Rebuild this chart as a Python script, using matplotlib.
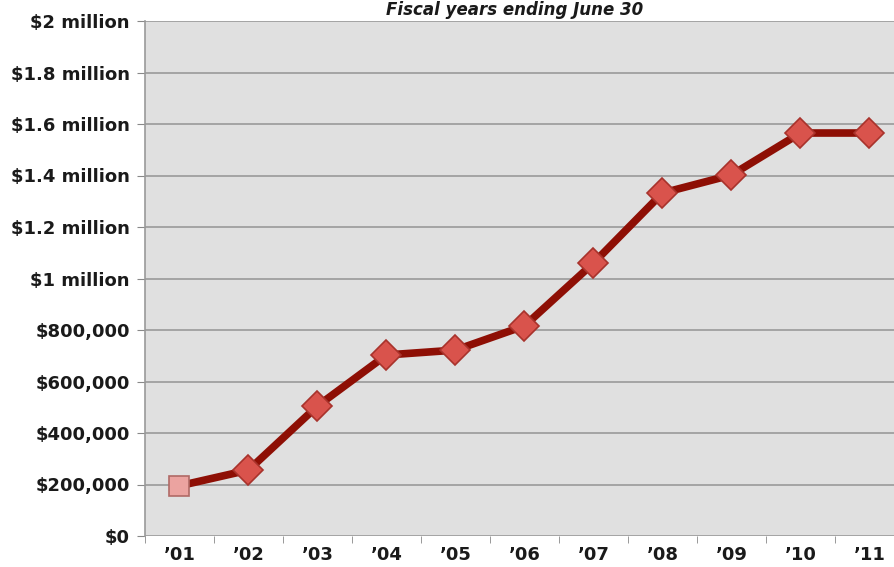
import matplotlib.pyplot as plt
import numpy as np

years = ["\u201901", "\u201902", "\u201903", "\u201904", "\u201905", "\u201906",
         "\u201907", "\u201908", "\u201909", "\u201910", "\u201911"]
amounts = [195000, 256000, 505000, 703000, 722000, 816000,
           1060000, 1332000, 1402000, 1565000, 1565000]
ytick_vals = [0, 200000, 400000, 600000, 800000, 1000000,
              1200000, 1400000, 1600000, 1800000, 2000000]
ytick_labels = ["$0", "$200,000", "$400,000", "$600,000", "$800,000", "$1 million",
                "$1.2 million", "$1.4 million", "$1.6 million", "$1.8 million", "$2 million"]

plt.rcParams["font.family"] = ["DejaVu Sans"]

fig = plt.figure(figsize=(8.95, 5.67), dpi=100)
W, H = 895, 567
left, right, top, bottom = 145, 904, 21, 536
ax = fig.add_axes([left / W, 1 - bottom / H, (right - left) / W, (bottom - top) / H])
ax.set_facecolor("#e0e0e0")

x = np.arange(len(years))
ax.plot(x, amounts, color="#8e0f05", lw=5.5, zorder=3, solid_capstyle="round")
ax.plot(x[1:], amounts[1:], ls="none", marker="D", ms=15, mfc="#d9534c",
        mec="#a8332c", mew=1.2, zorder=4)
ax.plot(x[:1], amounts[:1], ls="none", marker="s", ms=15, mfc="#eba3a0",
        mec="#b06a66", mew=1.2, zorder=4)

ax.set_xlim(-0.5, len(years) - 0.5)
ax.set_ylim(0, 2000000)
ax.set_yticks(ytick_vals)
ax.set_yticklabels(ytick_labels, fontsize=13, fontweight="bold", color="#1a1a1a")
ax.set_xticks(x)
ax.set_xticklabels(years, fontsize=13, fontweight="bold", color="#1a1a1a")
ax.tick_params(axis="x", length=0, pad=7)
ax.set_xticks(np.arange(-0.5, len(years)), minor=True)
ax.tick_params(axis="x", which="minor", length=5, color="#888888")
ax.tick_params(axis="y", length=6, color="#888888", pad=5)
ax.grid(axis="y", color="#9a9a9a", lw=1.2, zorder=1)
ax.set_axisbelow(True)
for s in ["top", "right", "bottom"]:
    ax.spines[s].set_visible(False)
ax.spines["left"].set_color("#9a9a9a")
ax.spines["left"].set_linewidth(1.2)

fig.text(515 / W, 1 - 1 / H, "Fiscal years ending June 30", ha="center", va="top",
         fontsize=12, fontweight="bold", style="italic", color="#1a1a1a")

fig.savefig("out.png", dpi=100)
